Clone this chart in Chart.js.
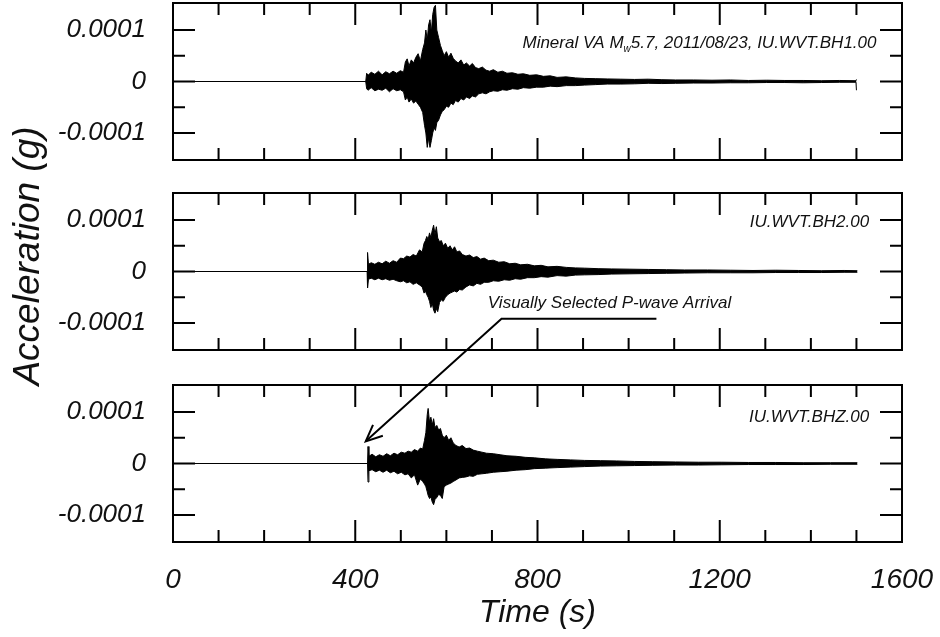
<!DOCTYPE html>
<html>
<head>
<meta charset="utf-8">
<script src="https://cdn.jsdelivr.net/npm/chart.js@4.4.1/dist/chart.umd.min.js"></script>
<style>
body{margin:0;background:#fff}
#wrap{position:relative;width:940px;height:637px}
canvas{position:absolute;left:0}
</style>
</head>
<body>
<div id="wrap">
<canvas id="c1" width="940" height="170" style="top:0px"></canvas>
<canvas id="c2" width="940" height="170" style="top:183px"></canvas>
<canvas id="c3" width="940" height="262" style="top:375px"></canvas>
<canvas id="over" width="940" height="637" style="top:0px"></canvas>
</div>
<script>
// envelope of each trace, time in s, amplitude in units of 1e-4 g
const UNIT=1e-4

const time1=[0,423,425,428,435,443,451,459,467,475,
483,491,499,506,510,514,518,523,528,533,
538,543,548,552,555,558,561,564,567,570,
573,576,579,583,587,591,595,600,605,610,
615,620,626,632,638,644,651,657,664,671,
679,687,695,703,713,723,733,745,757,769,
783,798,813,828,843,863,883,903,928,953,
983,1013,1043,1073,1103,1143,1183,1223,1263,1303,
1343,1383,1423,1463,1499,1500]
const upper1=[0,0,0.16,0.12,0.18,0.14,0.2,0.13,0.19,0.15,
0.2,0.16,0.21,0.18,0.38,0.44,0.3,0.42,0.36,0.47,
0.54,0.4,0.62,0.75,1.0,0.8,1.1,1.2,0.95,1.3,
1.44,1.48,1.0,0.85,0.7,0.6,0.5,0.58,0.47,0.55,
0.45,0.4,0.36,0.42,0.32,0.36,0.3,0.35,0.27,0.25,
0.28,0.22,0.2,0.23,0.18,0.2,0.16,0.17,0.14,0.15,
0.12,0.13,0.1,0.11,0.08,0.09,0.07,0.06,0.055,0.05,
0.045,0.04,0.045,0.035,0.03,0.03,0.025,0.03,0.02,0.025,
0.02,0.02,0.015,0.02,0.015,0.04]
const lower1=[0,0,-0.14,-0.17,-0.12,-0.18,-0.15,-0.17,-0.13,-0.2,
-0.14,-0.18,-0.16,-0.2,-0.36,-0.3,-0.4,-0.34,-0.42,-0.38,
-0.44,-0.5,-0.6,-0.85,-1.0,-1.28,-1.1,-1.28,-1.15,-1.0,
-0.9,-0.95,-0.8,-0.75,-0.65,-0.58,-0.55,-0.48,-0.5,-0.42,
-0.45,-0.37,-0.4,-0.33,-0.36,-0.3,-0.33,-0.28,-0.3,-0.24,
-0.22,-0.24,-0.2,-0.18,-0.19,-0.16,-0.17,-0.14,-0.15,-0.12,
-0.13,-0.11,-0.11,-0.09,-0.1,-0.08,-0.08,-0.07,-0.06,-0.05,
-0.05,-0.045,-0.035,-0.04,-0.035,-0.03,-0.03,-0.025,-0.025,-0.02,
-0.02,-0.025,-0.02,-0.015,-0.015,-0.17]

const time2=[0,426,427,429,435,443,451,459,467,475,
483,491,499,506,513,520,527,534,541,547,
551,554,557,560,563,566,569,572,575,578,
581,585,589,593,598,603,608,613,618,623,
629,635,643,651,659,667,675,683,693,703,
715,727,739,751,763,778,793,808,823,843,
863,883,903,933,963,1003,1043,1083,1123,1173,
1223,1273,1323,1373,1423,1473,1502]
const upper2=[0,0,0.37,0.14,0.17,0.14,0.18,0.15,0.2,0.16,
0.21,0.18,0.26,0.25,0.3,0.28,0.33,0.3,0.42,0.38,
0.55,0.6,0.68,0.62,0.75,0.66,0.8,0.9,0.72,0.87,
0.65,0.58,0.6,0.5,0.55,0.45,0.5,0.42,0.48,0.38,
0.4,0.33,0.3,0.32,0.27,0.29,0.24,0.26,0.21,0.22,
0.18,0.19,0.15,0.16,0.13,0.14,0.11,0.12,0.09,0.1,
0.08,0.07,0.065,0.055,0.05,0.045,0.04,0.035,0.03,0.03,
0.025,0.02,0.025,0.02,0.015,0.02,0.015]
const lower2=[0,0,-0.32,-0.15,-0.13,-0.16,-0.13,-0.16,-0.14,-0.17,
-0.15,-0.18,-0.2,-0.18,-0.22,-0.2,-0.25,-0.22,-0.26,-0.3,
-0.42,-0.38,-0.45,-0.5,-0.58,-0.7,-0.62,-0.75,-0.81,-0.72,
-0.78,-0.6,-0.55,-0.58,-0.5,-0.45,-0.42,-0.4,-0.38,-0.4,
-0.35,-0.36,-0.3,-0.26,-0.28,-0.23,-0.25,-0.21,-0.21,-0.18,
-0.19,-0.16,-0.17,-0.14,-0.15,-0.12,-0.12,-0.1,-0.11,-0.08,
-0.09,-0.07,-0.065,-0.06,-0.05,-0.045,-0.04,-0.035,-0.03,-0.025,
-0.025,-0.025,-0.02,-0.02,-0.02,-0.015,-0.015]

const time3=[0,427,428,430,437,445,453,461,469,477,
485,493,501,509,516,523,530,537,543,548,
552,555,558,560,563,566,569,572,575,579,
583,587,591,595,600,605,610,615,621,628,
635,643,651,659,668,678,688,703,718,733,
753,773,793,818,843,873,903,938,973,1013,
1053,1103,1153,1203,1263,1323,1383,1443,1502]
const upper3=[0,0,0.33,0.14,0.18,0.13,0.17,0.14,0.19,0.15,
0.2,0.17,0.22,0.2,0.24,0.22,0.27,0.24,0.3,0.28,
0.45,0.6,0.95,1.07,0.8,0.9,0.75,0.87,0.7,0.74,
0.65,0.68,0.55,0.5,0.55,0.45,0.5,0.4,0.35,0.32,
0.35,0.29,0.3,0.26,0.24,0.22,0.2,0.19,0.17,0.15,
0.14,0.12,0.11,0.09,0.08,0.07,0.06,0.055,0.05,0.04,
0.035,0.03,0.025,0.025,0.02,0.02,0.015,0.015,0.015]
const lower3=[0,0,-0.36,-0.14,-0.12,-0.16,-0.13,-0.17,-0.13,-0.18,
-0.15,-0.2,-0.17,-0.22,-0.2,-0.28,-0.22,-0.42,-0.3,-0.35,
-0.4,-0.45,-0.55,-0.62,-0.68,-0.65,-0.75,-0.8,-0.7,-0.66,
-0.6,-0.62,-0.68,-0.45,-0.42,-0.4,-0.38,-0.35,-0.32,-0.28,
-0.27,-0.26,-0.24,-0.25,-0.21,-0.2,-0.19,-0.17,-0.16,-0.15,
-0.13,-0.12,-0.1,-0.09,-0.08,-0.07,-0.06,-0.05,-0.045,-0.04,
-0.035,-0.03,-0.03,-0.025,-0.02,-0.02,-0.02,-0.015,-0.015]

const xTickValues=[0,400,800,1200,1600]
const yTickValues=[-0.0001,0,0.0001]
const yTickLabels=["-0.0001","0","0.0001"]

const FONT="Liberation Sans"
Chart.defaults.font.family=FONT
Chart.defaults.color="#111"

function pts(t,v){
let out=[]
for(let i=0;i<t.length;i++) out.push({x:t[i],y:v[i]*UNIT})
return out
}

// box with inward ticks on all four sides
const frame={
id:"frame",
afterDraw(chart){
let ctx=chart.ctx,a=chart.chartArea,x=chart.scales.x,y=chart.scales.y
ctx.save()
ctx.strokeStyle="#000"
ctx.lineWidth=2
ctx.strokeRect(a.left,a.top,a.right-a.left,a.bottom-a.top)
ctx.beginPath()
for(let t=0;t<=1600;t+=100){
let px=x.getPixelForValue(t),len=t%400==0?22:12
ctx.moveTo(px,a.top);ctx.lineTo(px,a.top+len)
ctx.moveTo(px,a.bottom);ctx.lineTo(px,a.bottom-len)
}
for(let k=-2;k<=2;k++){
let py=y.getPixelForValue(k*0.5*UNIT),len=k%2==0?22:12
ctx.moveTo(a.left,py);ctx.lineTo(a.left+len,py)
ctx.moveTo(a.right,py);ctx.lineTo(a.right-len,py)
}
ctx.stroke()
ctx.restore()
}
}

// station labels, placed in data coordinates
const panelText={
id:"panelText",
afterDatasetsDraw(chart,args,opts){
let ctx=chart.ctx,x=chart.scales.x,y=chart.scales.y
ctx.save()
ctx.fillStyle="#111"
ctx.textBaseline="middle"
for(let it of opts.items||[]){
let px=x.getPixelForValue(it.t),py=y.getPixelForValue(it.v*UNIT)
let w=0
for(let p of it.parts){ctx.font="italic "+(p[1]?10:17)+"px "+FONT;w+=ctx.measureText(p[0]).width}
let cx=it.align=="right"?px-w:px
for(let p of it.parts){
ctx.font="italic "+(p[1]?10:17)+"px "+FONT
ctx.fillText(p[0],cx,py+(p[1]?6:0))
cx+=ctx.measureText(p[0]).width
}
}
ctx.restore()
}
}

function makePanel(id,t,up,low,padTop,padBottom,showX,items){
return new Chart(document.getElementById(id),{
type:"line",
data:{datasets:[
{data:pts(t,up),borderColor:"#000",backgroundColor:"#000",borderWidth:1,pointRadius:0,fill:"+1",tension:0},
{data:pts(t,low),borderColor:"#000",borderWidth:1,pointRadius:0,fill:false,tension:0}
]},
options:{
responsive:false,animation:false,events:[],
layout:{padding:{top:padTop,bottom:padBottom,left:0,right:38}},
plugins:{legend:{display:false},tooltip:{enabled:false},panelText:{items:items}},
scales:{
x:{type:"linear",min:0,max:1600,display:showX,
grid:{display:false},border:{display:false},
afterBuildTicks:s=>{s.ticks=xTickValues.map(v=>({value:v}))},
ticks:{autoSkip:false,maxRotation:0,padding:13,font:{size:28,style:"italic"},callback:v=>String(v)},
title:{display:true,text:"Time (s)",font:{size:32,style:"italic"},padding:{top:0,bottom:5}},
afterFit:s=>{s.paddingLeft=0;s.paddingRight=0;if(showX)s.height=95}},
y:{min:-1.525*UNIT,max:1.525*UNIT,
grid:{display:false},border:{display:false},
afterBuildTicks:s=>{s.ticks=yTickValues.map(v=>({value:v}))},
ticks:{padding:19,font:{size:26,style:"italic"},callback:v=>yTickLabels[yTickValues.indexOf(v)]},
afterFit:s=>{s.width=173;s.paddingTop=0;s.paddingBottom=0}}
}
},
plugins:[frame,panelText]
})
}

let ch1=makePanel("c1",time1,upper1,lower1,3,10,false,[
{t:1544,v:0.74,align:"right",parts:[["Mineral VA M",0],["w",1],["5.7, 2011/08/23, IU.WVT.BH1.00",0]]}])
let ch2=makePanel("c2",time2,upper2,lower2,10,3,false,[
{t:1528,v:0.95,align:"right",parts:[["IU.WVT.BH2.00",0]]},
{t:691,v:-0.61,align:"left",parts:[["Visually Selected P-wave Arrival",0]]}])
let ch3=makePanel("c3",time3,upper3,lower3,10,0,true,[
{t:1528,v:0.9,align:"right",parts:[["IU.WVT.BHZ.00",0]]}])

// overlay: shared y title and the P-wave arrow
let o=document.getElementById("over").getContext("2d")
function pagePt(ch,top,t,v){return [ch.scales.x.getPixelForValue(t),top+ch.scales.y.getPixelForValue(v*UNIT)]}

o.save()
o.translate(39,256)
o.rotate(-Math.PI/2)
o.font="italic 37px "+FONT
o.fillStyle="#111"
o.textAlign="center"
o.textBaseline="alphabetic"
o.fillText("Acceleration (g)",0,0)
o.restore()

let p0=pagePt(ch2,183,1061,-0.92)
let p1=pagePt(ch2,183,721,-0.92)
let tip=pagePt(ch3,375,423,0.43)
o.strokeStyle="#000"
o.lineWidth=2
o.beginPath()
o.moveTo(p0[0],p0[1]);o.lineTo(p1[0],p1[1]);o.lineTo(tip[0],tip[1])
o.stroke()
let ang=Math.atan2(p1[1]-tip[1],p1[0]-tip[0])
o.beginPath()
o.moveTo(tip[0]+18*Math.cos(ang-0.42),tip[1]+18*Math.sin(ang-0.42))
o.lineTo(tip[0],tip[1])
o.lineTo(tip[0]+18*Math.cos(ang+0.42),tip[1]+18*Math.sin(ang+0.42))
o.stroke()
</script>
</body>
</html>
